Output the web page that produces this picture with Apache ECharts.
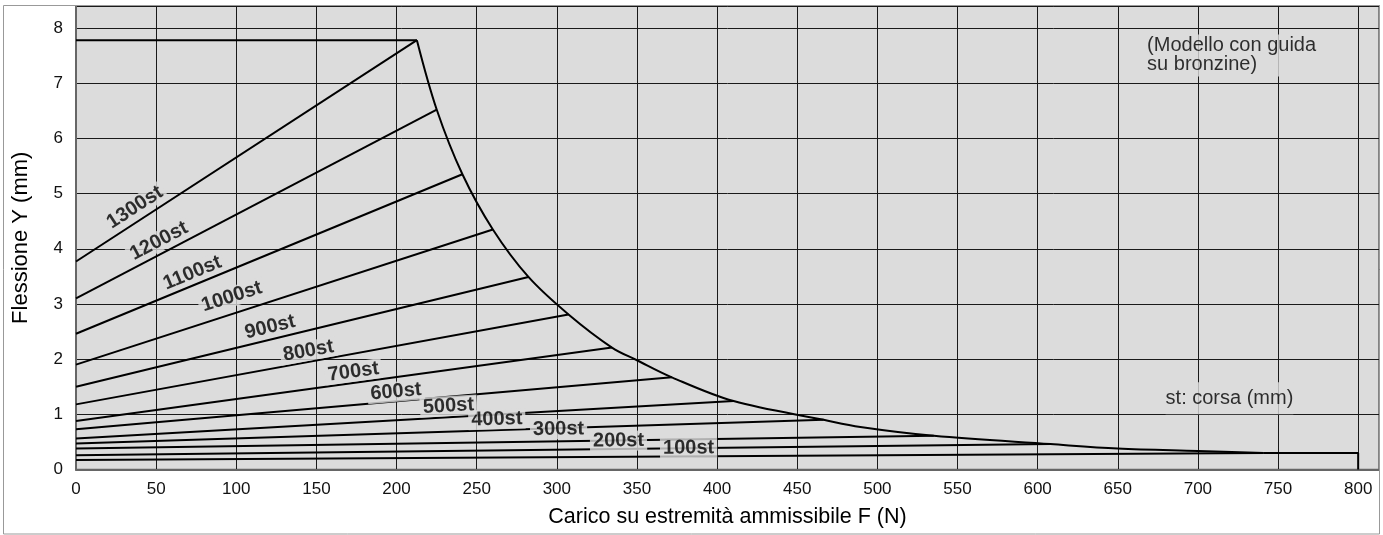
<!DOCTYPE html>
<html>
<head>
<meta charset="utf-8">
<script src="https://cdn.jsdelivr.net/npm/echarts@6/dist/echarts.min.js"></script>
<style>
  html,body{margin:0;padding:0;background:#fff;}
  #main{width:1383px;height:535px;}
</style>
</head>
<body>
<div id="main"></div>
<script>
// corse (st) e valori
var strokes=['100st','200st','300st','400st','500st','600st','700st','800st','900st','1000st','1100st','1200st','1300st'];
var startY=[0.17,0.26,0.38,0.47,0.56,0.73,0.88,1.18,1.50,1.90,2.46,3.10,3.77];
var endX=[741,608,535.2,466.5,410.3,371.8,334.4,307.3,282.3,260.1,241.1,225.1,212.7];
var endY=[0.30,0.46,0.61,0.90,1.24,1.67,2.21,2.81,3.49,4.35,5.35,6.52,7.78];
// posizione etichette (valori sugli assi) e inclinazione
var labelX=[382.2,338.5,301.1,262.6,232.4,199.6,173.1,145.0,121.1,97.2,72.6,51.8,36.8];
var labelY=[0.39,0.52,0.73,0.91,1.15,1.41,1.77,2.15,2.58,3.13,3.56,4.14,4.75];
var labelRot=[0.4,0.65,0.84,1.8,3.3,5.0,7.8,10.3,13.6,17.9,22.4,27.6,33];
// curva limite
var envX=[212.7,225.1,241.1,260.1,282.3,307.3,334.4,350,371.8,410.3,466.5,489.4,535.2,608,650,700,741];
var envY=[7.78,6.52,5.35,4.35,3.49,2.81,2.21,1.98,1.67,1.24,0.90,0.77,0.61,0.46,0.38,0.335,0.30];
var topLine=[[0,7.78],[212.7,7.78]];
var tailLine=[[741,0.30],[800,0.30],[800,0]];
var xTicks=[0,50,100,150,200,250,300,350,400,450,500,550,600,650,700,750,800];
var yTicks=[0,1,2,3,4,5,6,7,8];

var FONT="'Liberation Sans', Arial, Helvetica, sans-serif";
var BG='#dcdcdc';

var myChart=echarts.init(document.getElementById('main'));

var series=[];
var lineStyle={color:'#000',width:2};
for(var i=0;i<strokes.length;i++){
  series.push({
    name:strokes[i],type:'line',symbol:'none',silent:true,
    lineStyle:lineStyle,z:3,
    data:[[0,startY[i]],[endX[i],endY[i]]]
  });
}
var envData=[];
for(var j=0;j<envX.length;j++) envData.push([envX[j],envY[j]]);
series.push({type:'line',symbol:'none',silent:true,smooth:0.35,lineStyle:lineStyle,z:3,data:envData});
series.push({type:'line',symbol:'none',silent:true,lineStyle:lineStyle,z:3,data:topLine});
series.push({type:'line',symbol:'none',silent:true,lineStyle:lineStyle,z:3,data:tailLine});

// etichette corse
var lblData=[];
for(var k=0;k<strokes.length;k++){
  lblData.push({
    value:[labelX[k],labelY[k]],
    label:{rotate:labelRot[k],formatter:strokes[k]}
  });
}
series.push({
  type:'scatter',symbolSize:0,silent:true,z:10,
  data:lblData,
  label:{
    show:true,position:'inside',color:'#000',
    fontFamily:FONT,fontSize:20,fontWeight:'bold',
    backgroundColor:BG,padding:[0,3]
  }
});
// note
series.push({
  type:'scatter',symbolSize:0,silent:true,z:10,
  data:[{value:[668.3,7.505],label:{position:'right',distance:0,align:'left',
          formatter:'(Modello con guida\nsu bronzine)',lineHeight:19,padding:[2,0]}},
        {value:[719.7,1.29],label:{position:'inside',formatter:'st: corsa (mm)',padding:[6,0]}}],
  label:{show:true,color:'#000',fontFamily:FONT,fontSize:20,backgroundColor:BG}
});

var option={
  animation:false,
  backgroundColor:'#fff',
  textStyle:{fontFamily:FONT},
  grid:{left:76,right:4,top:6,bottom:65.5,show:true,backgroundColor:BG,borderColor:'#666',borderWidth:1.5},
  xAxis:{
    type:'value',min:0,max:813,interval:50,
    name:'Carico su estremità ammissibile F (N)',nameLocation:'middle',nameGap:37,
    nameTextStyle:{fontSize:21.5,color:'#000',fontFamily:FONT},
    axisLine:{show:true,lineStyle:{color:'#666',width:2}},
    axisTick:{show:false},
    axisLabel:{margin:11,fontSize:17,color:'#111',fontFamily:FONT,showMaxLabel:false,
      formatter:function(v){return xTicks.indexOf(v)>=0?String(v):'';}},
    splitLine:{show:true,lineStyle:{color:'#1a1a1a',width:1}}
  },
  yAxis:{
    type:'value',min:0,max:8.4,interval:1,
    name:'Flessione Y (mm)',nameLocation:'middle',nameGap:44,
    nameTextStyle:{fontSize:22,color:'#000',fontFamily:FONT},
    axisLine:{show:true,lineStyle:{color:'#666',width:2}},
    axisTick:{show:false},
    axisLabel:{margin:13,fontSize:17,color:'#111',fontFamily:FONT,showMaxLabel:false,
      formatter:function(v){return yTicks.indexOf(v)>=0?String(v):'';}},
    splitLine:{show:true,lineStyle:{color:'#1a1a1a',width:1}}
  },
  graphic:[{type:'rect',silent:true,z:100,
    shape:{x:3.5,y:5.5,width:1376,height:528.5},
    style:{fill:'none',stroke:'#999',lineWidth:1}}],
  series:series
};
myChart.setOption(option);
</script>
</body>
</html>
